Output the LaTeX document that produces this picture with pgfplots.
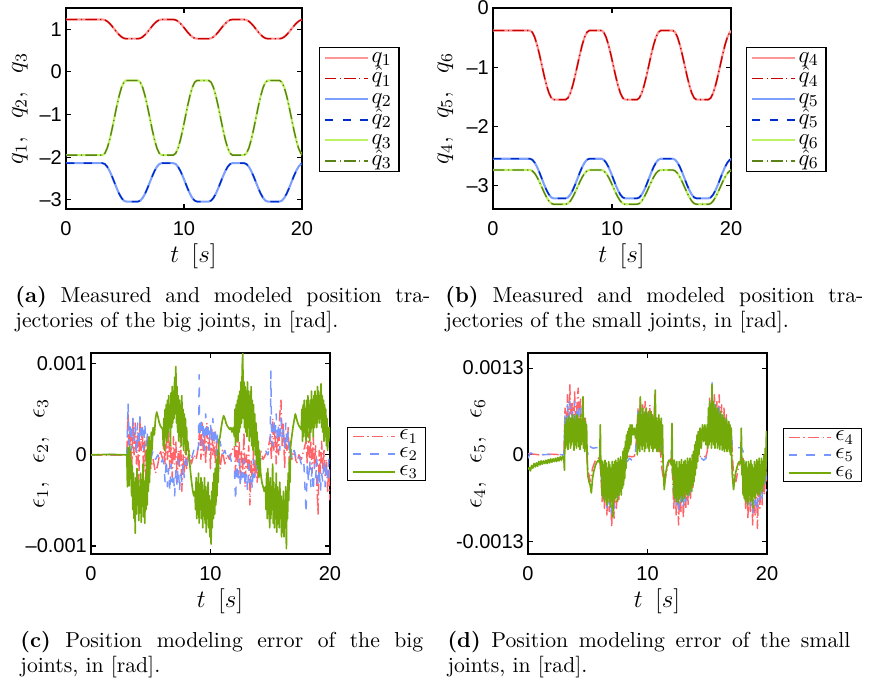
\documentclass[border=0pt]{standalone}
\usepackage{fontspec}
\usepackage{pgfplots}
\usepackage{pgfplotstable}
\pgfplotsset{compat=1.18}
\newfontfamily\tickfont{Liberation Sans}

\definecolor{qa}{RGB}{255,150,150}
\definecolor{qah}{RGB}{200,0,0}
\definecolor{qb}{RGB}{125,160,255}
\definecolor{qbh}{RGB}{0,45,200}
\definecolor{qc}{RGB}{190,240,100}
\definecolor{qch}{RGB}{90,130,25}
\definecolor{ea}{RGB}{255,100,105}
\definecolor{eb}{RGB}{120,150,255}
\definecolor{ec}{RGB}{115,170,10}

\tikzset{dashdot/.style={dash pattern=on 5.5pt off 1.6pt on 0.6pt off 1.6pt},
         mdash/.style={dash pattern=on 4pt off 4.5pt}}

% joint trajectories (measured = modeled at this scale), rad
\pgfplotstableread{
t q1 q2 q3 q4 q5 q6
0.0 1.230 -2.140 -1.950 -0.380 -2.550 -2.740
3.1 1.230 -2.140 -1.950 -0.380 -2.550 -2.740
3.3 1.219 -2.162 -1.907 -0.409 -2.566 -2.754
3.5 1.187 -2.226 -1.783 -0.492 -2.614 -2.795
3.7 1.137 -2.325 -1.589 -0.621 -2.688 -2.860
3.9 1.075 -2.451 -1.345 -0.784 -2.781 -2.940
4.1 1.005 -2.590 -1.075 -0.965 -2.885 -3.030
4.3 0.935 -2.729 -0.805 -1.146 -2.989 -3.120
4.5 0.873 -2.855 -0.561 -1.309 -3.082 -3.200
4.7 0.823 -2.954 -0.367 -1.438 -3.156 -3.265
4.9 0.791 -3.018 -0.243 -1.521 -3.204 -3.306
5.1 0.780 -3.040 -0.200 -1.550 -3.220 -3.320
6.1 0.780 -3.040 -0.200 -1.550 -3.220 -3.320
6.3 0.791 -3.018 -0.243 -1.521 -3.204 -3.306
6.5 0.823 -2.954 -0.367 -1.438 -3.156 -3.265
6.7 0.873 -2.855 -0.561 -1.309 -3.082 -3.200
6.9 0.935 -2.729 -0.805 -1.146 -2.989 -3.120
7.1 1.005 -2.590 -1.075 -0.965 -2.885 -3.030
7.3 1.075 -2.451 -1.345 -0.784 -2.781 -2.940
7.5 1.137 -2.325 -1.589 -0.621 -2.688 -2.860
7.7 1.187 -2.226 -1.783 -0.492 -2.614 -2.795
7.9 1.219 -2.162 -1.907 -0.409 -2.566 -2.754
8.1 1.230 -2.140 -1.950 -0.380 -2.550 -2.740
9.1 1.230 -2.140 -1.950 -0.380 -2.550 -2.740
9.3 1.219 -2.162 -1.907 -0.409 -2.566 -2.754
9.5 1.187 -2.226 -1.783 -0.492 -2.614 -2.795
9.7 1.137 -2.325 -1.589 -0.621 -2.688 -2.860
9.9 1.075 -2.451 -1.345 -0.784 -2.781 -2.940
10.1 1.005 -2.590 -1.075 -0.965 -2.885 -3.030
10.3 0.935 -2.729 -0.805 -1.146 -2.989 -3.120
10.5 0.873 -2.855 -0.561 -1.309 -3.082 -3.200
10.7 0.823 -2.954 -0.367 -1.438 -3.156 -3.265
10.9 0.791 -3.018 -0.243 -1.521 -3.204 -3.306
11.1 0.780 -3.040 -0.200 -1.550 -3.220 -3.320
12.1 0.780 -3.040 -0.200 -1.550 -3.220 -3.320
12.3 0.791 -3.018 -0.243 -1.521 -3.204 -3.306
12.5 0.823 -2.954 -0.367 -1.438 -3.156 -3.265
12.7 0.873 -2.855 -0.561 -1.309 -3.082 -3.200
12.9 0.935 -2.729 -0.805 -1.146 -2.989 -3.120
13.1 1.005 -2.590 -1.075 -0.965 -2.885 -3.030
13.3 1.075 -2.451 -1.345 -0.784 -2.781 -2.940
13.5 1.137 -2.325 -1.589 -0.621 -2.688 -2.860
13.7 1.187 -2.226 -1.783 -0.492 -2.614 -2.795
13.9 1.219 -2.162 -1.907 -0.409 -2.566 -2.754
14.1 1.230 -2.140 -1.950 -0.380 -2.550 -2.740
15.1 1.230 -2.140 -1.950 -0.380 -2.550 -2.740
15.3 1.219 -2.162 -1.907 -0.409 -2.566 -2.754
15.5 1.187 -2.226 -1.783 -0.492 -2.614 -2.795
15.7 1.137 -2.325 -1.589 -0.621 -2.688 -2.860
15.9 1.075 -2.451 -1.345 -0.784 -2.781 -2.940
16.1 1.005 -2.590 -1.075 -0.965 -2.885 -3.030
16.3 0.935 -2.729 -0.805 -1.146 -2.989 -3.120
16.5 0.873 -2.855 -0.561 -1.309 -3.082 -3.200
16.7 0.823 -2.954 -0.367 -1.438 -3.156 -3.265
16.9 0.791 -3.018 -0.243 -1.521 -3.204 -3.306
17.1 0.780 -3.040 -0.200 -1.550 -3.220 -3.320
18.1 0.780 -3.040 -0.200 -1.550 -3.220 -3.320
18.3 0.791 -3.018 -0.243 -1.521 -3.204 -3.306
18.5 0.823 -2.954 -0.367 -1.438 -3.156 -3.265
18.7 0.873 -2.855 -0.561 -1.309 -3.082 -3.200
18.9 0.935 -2.729 -0.805 -1.146 -2.989 -3.120
19.1 1.005 -2.590 -1.075 -0.965 -2.885 -3.030
19.3 1.075 -2.451 -1.345 -0.784 -2.781 -2.940
19.5 1.137 -2.325 -1.589 -0.621 -2.688 -2.860
19.7 1.187 -2.226 -1.783 -0.492 -2.614 -2.795
19.9 1.219 -2.162 -1.907 -0.409 -2.566 -2.754
20.0 1.227 -2.146 -1.939 -0.387 -2.554 -2.744
}\traj

% modeling errors of the big joints, in 1e-4 rad
\pgfplotstableread[row sep=\\]{t v\\
0 0\\ 1.5 -0.05\\ 3.0 0.0\\
3.1 4.5\\ 3.2 -1.5\\ 3.3 3.0\\ 3.4 -2.5\\ 3.5 4.0\\ 3.6 0.0\\ 3.7 3.5\\ 3.8 -1.0\\ 3.9 2.5\\ 4.0 -3.0\\
4.1 4.0\\ 4.2 0.5\\ 4.3 3.0\\ 4.4 -2.0\\ 4.5 1.5\\ 4.6 -3.5\\ 4.7 2.0\\ 4.8 -1.0\\ 4.9 0.5\\ 5.0 -1.5\\
5.2 -0.5\\ 5.4 -2.0\\ 5.6 -1.0\\ 5.8 0.5\\ 6.0 -0.5\\
6.1 1.5\\ 6.2 -1.0\\ 6.3 2.0\\ 6.4 -0.5\\ 6.5 2.5\\ 6.6 -1.5\\ 6.7 1.0\\ 6.8 -2.5\\ 6.9 2.0\\ 7.0 -1.0\\
7.1 1.5\\ 7.2 -3.0\\ 7.3 0.5\\ 7.4 -1.5\\ 7.5 2.0\\ 7.6 -4.0\\ 7.7 0.0\\ 7.8 -2.0\\ 7.9 1.0\\ 8.0 -1.5\\
8.2 0.5\\ 8.4 -1.0\\ 8.6 0.0\\ 8.8 -0.5\\
9.0 1.0\\ 9.1 3.0\\ 9.2 -0.5\\ 9.3 3.5\\ 9.4 0.0\\ 9.5 2.5\\ 9.6 -1.0\\ 9.7 3.5\\ 9.8 0.5\\ 9.9 2.0\\
10.0 -1.5\\ 10.1 3.0\\ 10.2 0.0\\ 10.3 2.5\\ 10.4 -1.0\\ 10.5 1.5\\ 10.6 -2.0\\ 10.7 0.5\\ 10.8 -1.5\\
11.0 0.5\\ 11.2 -1.0\\ 11.4 0.0\\ 11.6 -0.5\\ 11.8 0.5\\
12.0 1.0\\ 12.1 -2.0\\ 12.2 2.0\\ 12.3 -1.0\\ 12.4 1.5\\ 12.5 -3.0\\ 12.6 0.5\\ 12.7 -2.0\\ 12.8 2.5\\ 12.9 -3.5\\
13.0 0.0\\ 13.1 -1.5\\ 13.2 1.0\\ 13.3 -5.5\\ 13.4 -0.5\\ 13.5 -3.0\\ 13.6 0.5\\ 13.7 -2.5\\ 13.8 -0.5\\ 13.9 -3.0\\
14.0 -1.0\\ 14.2 0.5\\ 14.4 -0.5\\ 14.6 0.0\\ 14.8 0.5\\
15.0 2.0\\ 15.1 -0.5\\ 15.2 4.0\\ 15.3 0.5\\ 15.4 3.0\\ 15.5 -1.0\\ 15.6 2.5\\ 15.7 0.0\\ 15.8 4.5\\ 15.9 6.0\\
16.0 1.0\\ 16.1 3.5\\ 16.2 -1.5\\ 16.3 2.0\\ 16.4 0.5\\ 16.5 3.0\\ 16.6 -1.0\\ 16.7 1.5\\ 16.8 -0.5\\
17.0 0.5\\ 17.2 -1.0\\ 17.4 0.0\\ 17.6 -0.5\\ 17.8 0.5\\
18.0 1.5\\ 18.1 -1.0\\ 18.2 2.5\\ 18.3 -0.5\\ 18.4 1.5\\ 18.5 -2.0\\ 18.6 2.0\\ 18.7 -1.0\\ 18.8 1.0\\ 18.9 -3.0\\
19.0 -6.5\\ 19.1 0.5\\ 19.2 -2.0\\ 19.3 1.5\\ 19.4 -1.5\\ 19.5 0.5\\ 19.6 -2.5\\ 19.7 -0.5\\ 19.8 -4.0\\ 19.9 -1.5\\ 20.0 -5.0\\
}\eone

\pgfplotstableread[row sep=\\]{t v\\
0 0\\ 1.5 0.05\\ 3.0 0.0\\
3.1 5.7\\ 3.2 1.0\\ 3.3 3.5\\ 3.4 0.5\\ 3.5 4.0\\ 3.6 1.5\\ 3.7 3.0\\ 3.8 0.0\\ 3.9 3.5\\ 4.0 1.0\\
4.1 4.2\\ 4.2 2.0\\ 4.3 3.0\\ 4.4 0.5\\ 4.5 3.5\\ 4.6 1.0\\ 4.7 2.5\\ 4.8 0.0\\ 4.9 1.5\\ 5.0 -0.5\\
5.2 0.5\\ 5.4 -0.5\\ 5.6 0.0\\ 5.8 -1.0\\ 6.0 -0.5\\
6.1 -1.0\\ 6.2 -3.0\\ 6.3 -0.5\\ 6.4 -3.5\\ 6.5 -1.5\\ 6.6 -4.0\\ 6.7 -1.0\\ 6.8 -3.0\\ 6.9 -2.0\\ 7.0 -4.5\\
7.1 -1.5\\ 7.2 -3.5\\ 7.3 -0.5\\ 7.4 -4.0\\ 7.5 -2.0\\ 7.6 -3.0\\ 7.7 -1.0\\ 7.8 -2.5\\ 7.9 -0.5\\ 8.0 -1.5\\
8.2 0.0\\ 8.4 -0.5\\ 8.6 0.5\\ 8.8 0.0\\
9.0 1.0\\ 9.05 8.8\\ 9.1 2.0\\ 9.2 4.0\\ 9.3 1.0\\ 9.4 3.5\\ 9.5 0.5\\ 9.6 4.5\\ 9.7 2.0\\ 9.8 3.0\\ 9.9 0.5\\
10.0 3.5\\ 10.1 1.5\\ 10.2 4.0\\ 10.3 1.0\\ 10.4 3.0\\ 10.5 0.0\\ 10.6 2.5\\ 10.7 0.5\\ 10.8 1.5\\
11.0 0.0\\ 11.2 0.5\\ 11.4 -0.5\\ 11.6 0.0\\ 11.8 -1.0\\
12.0 -1.5\\ 12.1 -5.0\\ 12.2 -1.0\\ 12.3 -3.0\\ 12.4 -0.5\\ 12.5 -3.5\\ 12.6 -1.5\\ 12.7 -2.5\\ 12.8 -0.5\\ 12.9 -3.5\\
13.0 -2.0\\ 13.1 -4.0\\ 13.2 -1.0\\ 13.3 -3.0\\ 13.4 -2.0\\ 13.5 -3.8\\ 13.6 -0.5\\ 13.7 -2.5\\ 13.8 -1.0\\
14.0 -2.0\\ 14.2 -0.5\\ 14.4 0.0\\ 14.6 0.5\\ 14.8 0.0\\
15.0 1.0\\ 15.05 9.2\\ 15.1 3.0\\ 15.2 1.0\\ 15.3 4.0\\ 15.4 2.0\\ 15.5 4.5\\ 15.6 1.5\\ 15.7 3.5\\ 15.8 0.5\\ 15.9 4.0\\
16.0 2.0\\ 16.1 3.0\\ 16.2 0.5\\ 16.3 3.5\\ 16.4 1.0\\ 16.5 2.5\\ 16.6 0.0\\ 16.7 1.5\\ 16.8 -0.5\\
17.0 0.5\\ 17.2 -0.5\\ 17.4 0.0\\ 17.6 -1.0\\ 17.8 -0.5\\
18.0 -6.4\\ 18.1 -1.0\\ 18.2 -3.0\\ 18.3 -0.5\\ 18.4 -3.5\\ 18.5 -1.5\\ 18.6 -4.0\\ 18.7 -1.0\\ 18.8 -2.5\\ 18.9 -0.5\\
19.0 -3.5\\ 19.1 -1.5\\ 19.2 -4.0\\ 19.3 -2.0\\ 19.4 -3.0\\ 19.5 -0.5\\ 19.6 -3.5\\ 19.7 -1.0\\ 19.8 -2.5\\ 19.9 -0.5\\ 20.0 -3.0\\
}\etwo

\pgfplotstableread[row sep=\\]{t v\\
0 0.0\\ 1.5 0.05\\ 3.0 0.0\\
3.05 -3.5\\ 3.1 0.8\\ 3.15 -2.0\\ 3.2 -3.4\\ 3.25 1.0\\ 3.3 -2.6\\ 3.35 -0.5\\ 3.4 -4.5\\ 3.45 -1.2\\ 3.5 -6.0\\
3.55 -2.0\\ 3.6 -7.0\\ 3.65 -3.0\\ 3.7 -8.6\\ 3.75 -2.5\\ 3.8 -6.5\\ 3.85 -1.5\\ 3.9 -5.5\\ 3.95 -2.8\\ 4.0 -7.2\\
4.05 -3.5\\ 4.1 -6.0\\ 4.15 -2.0\\ 4.2 -7.4\\ 4.25 -3.0\\ 4.3 -5.5\\ 4.35 -1.0\\ 4.4 -6.8\\ 4.45 -3.2\\ 4.5 -7.5\\
4.55 -2.5\\ 4.6 -6.0\\ 4.65 0.5\\ 4.7 -5.5\\ 4.75 1.5\\ 4.8 -4.0\\ 4.85 2.0\\ 4.9 -3.0\\ 4.95 1.5\\ 5.0 -1.0\\
5.05 2.5\\ 5.1 0.5\\ 5.2 3.0\\ 5.3 2.2\\ 5.4 4.0\\ 5.5 4.7\\ 5.6 4.2\\ 5.7 3.6\\ 5.8 3.2\\ 5.9 3.0\\ 6.0 2.8\\
6.05 1.0\\ 6.1 4.0\\ 6.15 0.5\\ 6.2 5.0\\ 6.25 2.0\\ 6.3 5.5\\ 6.35 1.5\\ 6.4 6.0\\ 6.45 2.5\\ 6.5 6.5\\
6.55 3.0\\ 6.6 5.5\\ 6.65 1.0\\ 6.7 6.8\\ 6.75 3.0\\ 6.8 7.5\\ 6.85 3.5\\ 6.9 7.0\\ 6.95 4.0\\ 7.0 8.5\\
7.05 4.5\\ 7.1 9.7\\ 7.15 3.5\\ 7.2 7.5\\ 7.25 2.5\\ 7.3 6.5\\ 7.35 1.5\\ 7.4 6.0\\ 7.45 2.0\\ 7.5 5.5\\
7.55 1.0\\ 7.6 6.5\\ 7.65 2.0\\ 7.7 5.0\\ 7.75 0.5\\ 7.8 4.5\\ 7.85 1.5\\ 7.9 4.0\\ 7.95 0.0\\ 8.0 3.0\\
8.05 0.5\\ 8.1 1.5\\ 8.2 0.0\\ 8.3 -1.5\\ 8.4 -2.8\\ 8.5 -3.8\\ 8.6 -4.5\\ 8.7 -4.0\\
8.75 -6.0\\ 8.8 -2.5\\ 8.85 -7.0\\ 8.9 -3.0\\ 8.95 -6.5\\ 9.0 -2.0\\ 9.05 -7.5\\ 9.1 -3.5\\ 9.15 -6.0\\ 9.2 -2.5\\
9.25 -7.0\\ 9.3 -3.0\\ 9.35 -8.0\\ 9.4 -4.0\\ 9.45 -6.5\\ 9.5 -2.5\\ 9.55 -7.5\\ 9.6 -3.5\\ 9.65 -8.5\\ 9.7 -4.0\\
9.75 -7.0\\ 9.8 -3.0\\ 9.85 -8.0\\ 9.9 -4.5\\ 9.95 -9.0\\ 10.0 -5.0\\ 10.05 -9.8\\ 10.1 -4.0\\ 10.15 -8.0\\ 10.2 -3.0\\
10.25 -7.0\\ 10.3 -2.0\\ 10.35 -6.5\\ 10.4 -1.5\\ 10.45 -5.5\\ 10.5 -0.5\\ 10.55 -4.5\\ 10.6 0.5\\ 10.65 -3.0\\ 10.7 1.5\\
10.8 2.0\\ 10.9 3.0\\ 11.0 3.8\\ 11.1 4.3\\ 11.2 4.0\\ 11.3 3.5\\ 11.4 3.2\\ 11.5 3.0\\ 11.6 2.8\\ 11.7 3.0\\ 11.8 2.5\\ 11.9 3.0\\
12.0 2.0\\ 12.05 5.0\\ 12.1 1.0\\ 12.15 5.5\\ 12.2 2.0\\ 12.25 6.0\\ 12.3 1.5\\ 12.35 6.5\\ 12.4 2.5\\ 12.45 7.0\\
12.5 3.0\\ 12.55 8.0\\ 12.6 3.5\\ 12.65 9.5\\ 12.7 11.2\\ 12.75 4.0\\ 12.8 8.0\\ 12.85 3.0\\ 12.9 7.5\\ 12.95 2.5\\
13.0 7.0\\ 13.05 2.0\\ 13.1 8.0\\ 13.15 3.0\\ 13.2 7.0\\ 13.25 1.5\\ 13.3 6.5\\ 13.35 2.0\\ 13.4 7.5\\ 13.45 1.0\\
13.5 6.0\\ 13.55 0.5\\ 13.6 5.5\\ 13.65 1.0\\ 13.7 4.5\\ 13.75 0.0\\ 13.8 3.5\\ 13.85 -1.0\\ 13.9 2.5\\ 13.95 -1.5\\
14.0 1.5\\ 14.05 -2.5\\ 14.1 0.5\\ 14.2 -2.0\\ 14.3 -3.0\\ 14.4 -3.5\\ 14.5 -4.0\\ 14.6 -3.5\\
14.65 -6.0\\ 14.7 -2.0\\ 14.75 -7.0\\ 14.8 -1.5\\ 14.85 -6.5\\ 14.9 -3.0\\ 14.95 -8.0\\ 15.0 -2.5\\
15.05 -7.0\\ 15.1 -3.5\\ 15.15 -6.0\\ 15.2 -1.0\\ 15.25 -7.5\\ 15.3 -3.0\\ 15.35 -8.0\\ 15.4 -4.0\\ 15.45 -7.0\\ 15.5 -2.0\\
15.55 -8.5\\ 15.6 -3.5\\ 15.65 -7.5\\ 15.7 -4.0\\ 15.75 -8.0\\ 15.8 -3.0\\ 15.85 -7.0\\ 15.9 -4.5\\ 15.95 -9.0\\ 16.0 -5.0\\
16.05 -8.5\\ 16.1 -4.0\\ 16.15 -9.0\\ 16.2 -5.0\\ 16.25 -8.0\\ 16.3 -3.5\\ 16.35 -10.3\\ 16.4 -4.0\\ 16.45 -7.0\\ 16.5 -2.0\\
16.55 -5.0\\ 16.6 -0.5\\ 16.65 -3.0\\ 16.7 1.0\\ 16.8 2.0\\ 16.9 3.0\\ 17.0 3.8\\ 17.1 4.5\\ 17.2 4.0\\ 17.3 3.5\\ 17.4 3.2\\ 17.5 3.0\\ 17.6 2.8\\
17.65 5.0\\ 17.7 1.5\\ 17.75 5.5\\ 17.8 2.0\\ 17.85 6.0\\ 17.9 2.5\\ 17.95 5.0\\ 18.0 1.5\\ 18.05 6.0\\ 18.1 2.0\\
18.15 6.5\\ 18.2 3.0\\ 18.25 5.5\\ 18.3 1.5\\ 18.35 6.0\\ 18.4 2.5\\ 18.45 7.0\\ 18.5 3.0\\ 18.55 6.0\\ 18.6 2.0\\
18.65 6.5\\ 18.7 3.0\\ 18.75 7.0\\ 18.8 3.5\\ 18.85 6.5\\ 18.9 3.0\\ 18.95 7.5\\ 19.0 4.0\\ 19.05 7.0\\ 19.1 3.5\\
19.15 6.5\\ 19.2 4.0\\ 19.25 7.8\\ 19.3 3.0\\ 19.35 6.5\\ 19.4 2.5\\ 19.45 6.0\\ 19.5 1.5\\ 19.55 5.5\\ 19.6 2.0\\
19.65 5.0\\ 19.7 1.0\\ 19.75 4.0\\ 19.8 0.5\\ 19.85 3.0\\ 19.9 1.5\\ 19.95 3.0\\ 20.0 2.5\\
}\ethree

% modeling errors of the small joints, in 1e-4 rad
\pgfplotstableread[row sep=\\]{t v\\
0.0 0.2\\ 1.0 0.0\\ 2.0 0.1\\ 3.0 0.0\\
3.1 7.0\\ 3.2 2.0\\ 3.3 9.0\\ 3.4 3.0\\ 3.5 10.5\\ 3.6 4.0\\ 3.7 8.0\\ 3.8 2.5\\ 3.9 9.5\\ 4.0 3.5\\
4.1 7.5\\ 4.2 10.0\\ 4.3 3.0\\ 4.4 8.5\\ 4.5 2.0\\ 4.6 6.0\\ 4.7 1.5\\ 4.8 5.5\\ 4.9 0.5\\ 5.0 -2.0\\
5.2 -4.0\\ 5.4 -2.0\\ 5.6 -1.0\\ 5.8 -0.5\\ 6.0 -0.5\\
6.1 -3.0\\ 6.2 -7.0\\ 6.3 -2.5\\ 6.4 -8.0\\ 6.5 -3.5\\ 6.6 -9.0\\ 6.7 -4.0\\ 6.8 -8.5\\ 6.9 -3.0\\ 7.0 -10.9\\
7.1 -5.0\\ 7.2 -9.5\\ 7.3 -3.5\\ 7.4 -8.0\\ 7.5 -2.0\\ 7.6 -7.0\\ 7.7 -1.5\\ 7.8 -5.0\\ 7.9 -1.0\\ 8.0 -3.0\\
8.1 -0.5\\ 8.3 -0.3\\ 8.5 -0.2\\ 8.7 -0.3\\ 8.9 -0.2\\ 9.0 0.5\\
9.1 3.0\\ 9.2 7.0\\ 9.3 2.0\\ 9.4 8.5\\ 9.5 3.0\\ 9.6 7.5\\ 9.7 2.0\\ 9.8 8.0\\ 9.9 3.5\\ 10.0 6.5\\
10.1 1.5\\ 10.2 7.5\\ 10.3 2.5\\ 10.4 6.0\\ 10.5 1.0\\ 10.6 9.0\\ 10.7 2.0\\ 10.8 5.5\\ 10.9 0.5\\ 11.0 4.5\\
11.1 0.0\\ 11.2 -2.0\\ 11.4 -4.5\\ 11.6 -2.5\\ 11.8 -1.0\\ 12.0 -0.5\\
12.1 -3.0\\ 12.2 -8.0\\ 12.3 -3.5\\ 12.4 -9.0\\ 12.5 -4.0\\ 12.6 -10.5\\ 12.7 -5.0\\ 12.8 -8.5\\ 12.9 -3.0\\ 13.0 -9.5\\
13.1 -4.0\\ 13.2 -8.0\\ 13.3 -2.5\\ 13.4 -7.5\\ 13.5 -2.0\\ 13.6 -6.5\\ 13.7 -1.5\\ 13.8 -5.0\\ 13.9 -1.0\\ 14.0 -2.5\\
14.1 -0.5\\ 14.3 -0.3\\ 14.5 -0.2\\ 14.7 -0.3\\ 14.9 -0.2\\ 15.0 0.5\\
15.1 4.0\\ 15.2 8.5\\ 15.3 3.0\\ 15.4 10.0\\ 15.5 4.0\\ 15.6 9.0\\ 15.7 3.0\\ 15.8 8.0\\ 15.9 2.5\\ 16.0 9.0\\
16.1 3.5\\ 16.2 7.5\\ 16.3 2.0\\ 16.4 7.0\\ 16.5 1.5\\ 16.6 6.0\\ 16.7 1.0\\ 16.8 5.0\\ 16.9 0.5\\ 17.0 4.0\\
17.1 0.0\\ 17.2 -3.0\\ 17.4 -4.0\\ 17.6 -2.0\\ 17.8 -1.0\\ 18.0 -0.5\\
18.1 -3.0\\ 18.2 -8.0\\ 18.3 -3.0\\ 18.4 -9.5\\ 18.5 -4.0\\ 18.6 -8.5\\ 18.7 -3.5\\ 18.8 -10.5\\ 18.9 -4.0\\ 19.0 -9.0\\
19.1 -3.0\\ 19.2 -11.0\\ 19.3 -4.5\\ 19.4 -8.0\\ 19.5 -2.5\\ 19.6 -7.5\\ 19.7 -2.0\\ 19.8 -6.0\\ 19.9 -1.0\\ 20.0 -4.0\\
}\efour

\pgfplotstableread[row sep=\\]{t v\\
0.0 -0.5\\ 0.2 0.3\\ 0.5 0.1\\ 1.0 0.0\\ 2.0 0.1\\ 3.0 0.0\\
3.1 6.0\\ 3.2 2.0\\ 3.3 7.5\\ 3.4 2.5\\ 3.5 8.0\\ 3.6 3.0\\ 3.7 6.5\\ 3.8 2.0\\ 3.9 8.0\\ 4.0 3.0\\
4.1 6.5\\ 4.2 7.5\\ 4.3 2.5\\ 4.4 7.0\\ 4.5 2.0\\ 4.6 5.5\\ 4.7 1.5\\ 4.8 5.0\\ 4.9 1.0\\ 5.0 0.0\\
5.1 1.5\\ 5.3 1.1\\ 5.5 1.0\\ 5.7 1.1\\ 5.9 1.0\\ 6.0 0.5\\
6.1 -2.0\\ 6.2 -6.0\\ 6.3 -2.0\\ 6.4 -7.0\\ 6.5 -3.0\\ 6.6 -8.0\\ 6.7 -3.5\\ 6.8 -7.5\\ 6.9 -2.5\\ 7.0 -9.5\\
7.1 -4.0\\ 7.2 -8.0\\ 7.3 -3.0\\ 7.4 -7.0\\ 7.5 -2.0\\ 7.6 -6.0\\ 7.7 -1.5\\ 7.8 -4.0\\ 7.9 -1.0\\ 8.0 -2.0\\
8.1 -0.5\\ 8.3 -1.0\\ 8.5 -0.5\\ 8.7 -0.8\\ 8.9 -0.5\\ 9.0 0.5\\
9.1 3.0\\ 9.2 6.5\\ 9.3 2.0\\ 9.4 7.5\\ 9.5 3.0\\ 9.6 6.5\\ 9.7 2.0\\ 9.8 7.0\\ 9.9 3.0\\ 10.0 6.0\\
10.1 1.5\\ 10.2 6.5\\ 10.3 2.0\\ 10.4 5.5\\ 10.5 1.0\\ 10.6 6.0\\ 10.7 2.0\\ 10.8 5.0\\ 10.9 0.5\\ 11.0 4.0\\
11.1 1.0\\ 11.3 1.1\\ 11.5 1.0\\ 11.7 1.1\\ 11.9 1.0\\ 12.0 0.5\\
12.1 -2.0\\ 12.2 -6.5\\ 12.3 -2.5\\ 12.4 -7.5\\ 12.5 -3.0\\ 12.6 -8.5\\ 12.7 -3.5\\ 12.8 -7.0\\ 12.9 -2.5\\ 13.0 -8.0\\
13.1 -3.0\\ 13.2 -7.0\\ 13.3 -2.0\\ 13.4 -6.5\\ 13.5 -1.5\\ 13.6 -5.5\\ 13.7 -1.0\\ 13.8 -4.0\\ 13.9 -0.5\\ 14.0 -2.0\\
14.1 -0.5\\ 14.3 -1.0\\ 14.5 -0.5\\ 14.7 -0.8\\ 14.9 -0.5\\ 15.0 0.5\\
15.1 3.5\\ 15.2 7.5\\ 15.3 2.5\\ 15.4 10.8\\ 15.5 3.5\\ 15.6 8.0\\ 15.7 2.5\\ 15.8 7.0\\ 15.9 2.0\\ 16.0 7.5\\
16.1 3.0\\ 16.2 6.5\\ 16.3 2.0\\ 16.4 6.0\\ 16.5 1.5\\ 16.6 5.5\\ 16.7 1.0\\ 16.8 4.5\\ 16.9 0.5\\ 17.0 3.5\\
17.1 1.0\\ 17.3 1.1\\ 17.5 1.0\\ 17.7 1.1\\ 17.9 1.0\\ 18.0 0.5\\
18.1 -2.0\\ 18.2 -6.5\\ 18.3 -2.5\\ 18.4 -8.0\\ 18.5 -3.0\\ 18.6 -7.5\\ 18.7 -2.5\\ 18.8 -9.0\\ 18.9 -3.5\\ 19.0 -7.5\\
19.1 -2.0\\ 19.2 -8.5\\ 19.3 -3.5\\ 19.4 -7.0\\ 19.5 -2.0\\ 19.6 -6.5\\ 19.7 -1.5\\ 19.8 -5.0\\ 19.9 -2.0\\ 20.0 -5.5\\
}\efive

\pgfplotstableread[row sep=\\]{t v\\
0.0 -2.2\\ 0.1 -1.9\\ 0.2 -2.4\\ 0.3 -1.6\\ 0.4 -2.0\\ 0.5 -1.3\\ 0.6 -1.8\\ 0.7 -1.2\\ 0.8 -1.7\\ 0.9 -1.0\\
1.0 -1.5\\ 1.1 -0.9\\ 1.2 -1.4\\ 1.3 -0.9\\ 1.4 -1.3\\ 1.5 -0.8\\ 1.6 -1.3\\ 1.7 -0.7\\ 1.8 -1.2\\ 1.9 -0.6\\
2.0 -1.1\\ 2.1 -0.6\\ 2.2 -1.0\\ 2.3 -0.5\\ 2.4 -1.0\\ 2.5 -0.4\\ 2.6 -0.9\\ 2.7 -0.3\\ 2.8 -0.8\\ 2.9 -0.2\\ 3.0 -0.6\\
3.05 -2.3\\ 3.1 4.5\\ 3.15 1.0\\ 3.2 5.5\\ 3.25 1.5\\ 3.3 5.0\\ 3.35 0.8\\ 3.4 5.8\\ 3.45 2.0\\ 3.5 4.8\\
3.55 1.0\\ 3.6 5.5\\ 3.65 1.5\\ 3.7 6.0\\ 3.75 2.0\\ 3.8 5.2\\ 3.85 0.7\\ 3.9 5.8\\ 3.95 1.5\\ 4.0 5.0\\
4.05 1.0\\ 4.1 6.0\\ 4.15 2.0\\ 4.2 5.5\\ 4.25 1.2\\ 4.3 5.0\\ 4.35 0.8\\ 4.4 6.0\\ 4.45 1.5\\ 4.5 5.0\\
4.55 2.0\\ 4.6 8.7\\ 4.65 1.0\\ 4.7 5.5\\ 4.75 0.5\\ 4.8 5.0\\ 4.85 1.0\\ 4.9 4.5\\ 4.95 -0.5\\
5.0 -3.0\\ 5.1 -4.0\\ 5.2 -4.5\\ 5.3 -5.7\\ 5.4 -3.5\\ 5.5 -2.5\\ 5.6 -1.8\\ 5.7 -1.3\\ 5.8 -1.0\\ 5.9 -0.8\\ 6.0 -1.2\\
6.05 4.5\\ 6.1 -3.0\\ 6.15 -0.8\\ 6.2 -6.0\\ 6.25 -1.0\\ 6.3 -6.5\\ 6.35 -1.5\\ 6.4 -7.0\\ 6.45 -0.8\\ 6.5 -6.0\\
6.55 -1.2\\ 6.6 -7.5\\ 6.65 -2.0\\ 6.7 -6.5\\ 6.75 -1.0\\ 6.8 -7.0\\ 6.85 -1.5\\ 6.9 -7.8\\ 6.95 -2.0\\ 7.0 -6.5\\
7.05 -1.0\\ 7.1 -9.3\\ 7.15 -1.5\\ 7.2 -7.0\\ 7.25 -1.0\\ 7.3 -6.5\\ 7.35 -0.8\\ 7.4 -6.0\\ 7.45 -1.2\\ 7.5 -7.0\\
7.55 -0.5\\ 7.6 -6.0\\ 7.65 -1.0\\ 7.7 -5.5\\ 7.75 -0.3\\ 7.8 -6.0\\ 7.85 -0.8\\ 7.9 -5.0\\ 7.95 0.5\\ 8.0 -4.5\\
8.05 1.0\\ 8.1 -3.5\\ 8.15 2.0\\ 8.2 -2.0\\ 8.25 3.0\\ 8.3 -0.5\\ 8.35 3.5\\ 8.4 0.5\\ 8.45 4.0\\ 8.5 1.0\\
8.55 4.5\\ 8.6 1.5\\ 8.7 4.5\\ 8.8 3.0\\ 8.9 4.0\\ 9.0 2.5\\ 9.1 4.5\\
9.15 0.0\\ 9.2 6.0\\ 9.25 1.0\\ 9.3 6.5\\ 9.35 0.5\\ 9.4 8.7\\ 9.45 1.5\\ 9.5 6.0\\ 9.55 0.8\\ 9.6 7.0\\
9.65 1.5\\ 9.7 6.0\\ 9.75 0.5\\ 9.8 6.5\\ 9.85 1.0\\ 9.9 7.0\\ 9.95 2.0\\ 10.0 6.0\\ 10.05 1.0\\ 10.1 6.5\\
10.15 0.5\\ 10.2 5.5\\ 10.25 1.5\\ 10.3 6.5\\ 10.35 1.0\\ 10.4 6.0\\ 10.45 0.5\\ 10.5 5.5\\ 10.55 1.0\\ 10.6 6.0\\
10.65 9.7\\ 10.7 1.0\\ 10.75 5.5\\ 10.8 0.5\\ 10.85 5.0\\ 10.9 1.0\\ 10.95 6.0\\ 11.0 0.5\\ 11.05 5.0\\ 11.1 1.5\\
11.15 5.5\\ 11.2 0.0\\ 11.25 4.5\\ 11.3 -1.0\\ 11.35 -3.0\\ 11.4 -5.2\\ 11.5 -3.0\\ 11.6 -2.0\\ 11.7 -1.2\\ 11.8 -0.8\\ 11.9 -1.0\\ 12.0 -1.5\\
12.05 4.7\\ 12.1 -3.0\\ 12.15 -1.0\\ 12.2 -6.0\\ 12.25 -0.8\\ 12.3 -6.5\\ 12.35 -1.5\\ 12.4 -7.0\\ 12.45 -1.0\\ 12.5 -6.0\\
12.55 -2.0\\ 12.6 -7.2\\ 12.65 -1.0\\ 12.7 -6.5\\ 12.75 -1.5\\ 12.8 -6.0\\ 12.85 -0.7\\ 12.9 -7.0\\ 12.95 -1.5\\ 13.0 -6.0\\
13.05 -1.0\\ 13.1 -6.5\\ 13.15 -0.8\\ 13.2 -5.5\\ 13.25 -1.5\\ 13.3 -6.0\\ 13.35 -0.5\\ 13.4 -5.5\\ 13.45 -1.0\\ 13.5 -6.0\\
13.55 -0.5\\ 13.6 -5.0\\ 13.65 -1.0\\ 13.7 -5.5\\ 13.75 0.0\\ 13.8 -4.5\\ 13.85 0.5\\ 13.9 -4.0\\ 13.95 1.5\\ 14.0 -3.0\\
14.05 2.0\\ 14.1 -2.0\\ 14.15 3.0\\ 14.2 -1.0\\ 14.25 3.5\\ 14.3 0.0\\ 14.4 4.0\\ 14.5 1.0\\ 14.6 4.5\\ 14.7 2.0\\ 14.8 4.5\\ 14.9 1.5\\ 15.0 4.5\\
15.05 1.0\\ 15.1 7.0\\ 15.15 1.5\\ 15.2 8.0\\ 15.25 2.0\\ 15.3 7.5\\ 15.35 1.0\\ 15.4 10.5\\ 15.45 2.0\\ 15.5 8.0\\
15.55 1.5\\ 15.6 7.0\\ 15.65 1.0\\ 15.7 7.5\\ 15.75 2.0\\ 15.8 6.5\\ 15.85 1.0\\ 15.9 7.0\\ 15.95 1.5\\ 16.0 6.0\\
16.05 0.8\\ 16.1 6.5\\ 16.15 1.5\\ 16.2 5.5\\ 16.25 0.7\\ 16.3 6.0\\ 16.35 1.0\\ 16.4 5.5\\ 16.45 0.5\\ 16.5 5.0\\
16.55 1.0\\ 16.6 5.5\\ 16.65 0.5\\ 16.7 4.5\\ 16.75 1.0\\ 16.8 5.0\\ 16.85 0.5\\ 16.9 4.5\\ 16.95 0.0\\ 17.0 4.0\\
17.05 -1.0\\ 17.1 -3.0\\ 17.2 -5.2\\ 17.3 -3.5\\ 17.4 -2.5\\ 17.5 -1.8\\ 17.6 -1.2\\ 17.7 -1.0\\ 17.8 -1.3\\ 17.85 4.0\\ 17.9 -3.0\\
17.95 -1.0\\ 18.0 -6.0\\ 18.05 -0.8\\ 18.1 -6.5\\ 18.15 -1.5\\ 18.2 -7.0\\ 18.25 -1.0\\ 18.3 -6.5\\ 18.35 -2.0\\ 18.4 -7.5\\
18.45 -1.0\\ 18.5 -6.0\\ 18.55 -1.5\\ 18.6 -7.0\\ 18.65 -0.8\\ 18.7 -6.5\\ 18.75 -1.5\\ 18.8 -7.9\\ 18.85 -2.0\\ 18.9 -6.0\\
18.95 -1.0\\ 19.0 -6.5\\ 19.05 -1.5\\ 19.1 -5.5\\ 19.15 -0.7\\ 19.2 -6.0\\ 19.25 -1.0\\ 19.3 -5.5\\ 19.35 -0.5\\ 19.4 -6.0\\
19.45 -1.5\\ 19.5 -5.0\\ 19.55 -0.5\\ 19.6 -5.5\\ 19.65 -1.0\\ 19.7 -4.5\\ 19.75 0.0\\ 19.8 -4.0\\ 19.85 1.0\\ 19.9 -3.0\\ 19.95 3.5\\ 20.0 -1.0\\
}\esix

\pgfplotsset{
  myaxis/.style={
    scale only axis, anchor=north west,
    axis line style={line width=0.7pt},
    tick align=inside, major tick length=2.5pt,
    tick style={line width=0.5pt, black},
    xmin=0, xmax=20, xtick={0,10,20}, xticklabels={0,10,20},
    ticklabel style={font=\fontsize{9.6}{11}\tickfont},
    xticklabel style={inner sep=0pt, anchor=north, yshift=-6pt},
    yticklabel style={inner sep=0pt, anchor=east, xshift=-1.8pt},
    label style={font=\fontsize{12}{14}\selectfont},
    xlabel={$t\ \,[s]$},
    xlabel style={at={(axis description cs:0.54,-0.235)}, anchor=center},
    legend image code/.code={\draw[##1] (0pt,0pt) -- (20.5pt,0pt);},
    legend cell align=left,
    legend style={draw=black, line width=0.6pt, fill=white, anchor=north west,
      inner xsep=2pt, inner ysep=0pt, row sep=0pt,
      font=\fontsize{11}{12}\selectfont,
      nodes={inner xsep=1.5pt, inner ysep=0pt, text height=7pt, text depth=2.9pt}},
  },
  errlegend/.style={legend style={font=\fontsize{10.5}{12}\selectfont,
      nodes={inner xsep=1.5pt, inner ysep=0pt, text height=5.8pt, text depth=2.7pt}}},
}

\newcommand\capfont{\fontsize{10.4}{11.9}\selectfont}

\begin{document}
\begin{tikzpicture}
\useasboundingbox (0pt,0pt) rectangle (422.88pt,-327.36pt);

% (a)
\begin{axis}[myaxis, at={(31.68pt,-3.84pt)}, width=113.28pt, height=96.48pt,
  ymin=-3.215, ymax=1.5, ytick={-3,-2,-1,0,1},
  yticklabels={\textendash3,\textendash2,\textendash1,0,1},
  ylabel={$q_1,\;\; q_2,\;\; q_3$},
  ylabel style={at={(axis description cs:-0.195,0.5)}, anchor=center},
  legend style={at={(axis description cs:1.072,0.806)}}]
\addplot[qa, line width=1pt] table[x=t,y=q1] {\traj}; \addlegendentry{$q_1$}
\addplot[qah, line width=0.65pt, dashdot] table[x=t,y=q1] {\traj}; \addlegendentry{$\hat{q}_1$}
\addplot[qb, line width=1pt] table[x=t,y=q2] {\traj}; \addlegendentry{$q_2$}
\addplot[qbh, line width=0.7pt, mdash] table[x=t,y=q2] {\traj}; \addlegendentry{$\hat{q}_2$}
\addplot[qc, line width=1pt] table[x=t,y=q3] {\traj}; \addlegendentry{$q_3$}
\addplot[qch, line width=0.65pt, dashdot] table[x=t,y=q3] {\traj}; \addlegendentry{$\hat{q}_3$}
\end{axis}

% (b)
\begin{axis}[myaxis, at={(236.64pt,-3.84pt)}, width=114.24pt, height=96.48pt,
  ymin=-3.4, ymax=0, ytick={-3,-2,-1,0},
  yticklabels={\textendash3,\textendash2,\textendash1,0},
  ylabel={$q_4,\;\; q_5,\;\; q_6$},
  ylabel style={at={(axis description cs:-0.20,0.5)}, anchor=center},
  legend style={at={(axis description cs:1.063,0.806)}}]
\addplot[qa, line width=1pt] table[x=t,y=q4] {\traj}; \addlegendentry{$q_4$}
\addplot[qah, line width=0.65pt, dashdot] table[x=t,y=q4] {\traj}; \addlegendentry{$\hat{q}_4$}
\addplot[qb, line width=1pt] table[x=t,y=q5] {\traj}; \addlegendentry{$q_5$}
\addplot[qbh, line width=0.7pt, mdash] table[x=t,y=q5] {\traj}; \addlegendentry{$\hat{q}_5$}
\addplot[qc, line width=1pt] table[x=t,y=q6] {\traj}; \addlegendentry{$q_6$}
\addplot[qch, line width=0.65pt, dashdot] table[x=t,y=q6] {\traj}; \addlegendentry{$\hat{q}_6$}
\end{axis}

% (c)
\begin{axis}[myaxis, errlegend, at={(43.68pt,-169.44pt)}, width=114.72pt, height=96.48pt,
  ymin=-10.88, ymax=11.18, ytick={-10,0,10},
  yticklabels={\textendash0.001,0,0.001},
  ylabel={$\epsilon_1,\;\; \epsilon_2,\;\; \epsilon_3$},
  ylabel style={at={(axis description cs:-0.207,0.5)}, anchor=center},
  legend style={at={(axis description cs:1.071,0.632)}}]
\addplot[ea, line width=0.7pt, dashdot, line join=round] table[x=t,y=v] {\eone}; \addlegendentry{$\epsilon_1$}
\addplot[eb, line width=0.7pt, mdash, line join=round] table[x=t,y=v] {\etwo}; \addlegendentry{$\epsilon_2$}
\addplot[ec, line width=0.8pt, line join=round] table[x=t,y=v] {\ethree}; \addlegendentry{$\epsilon_3$}
\end{axis}

% (d)
\begin{axis}[myaxis, errlegend, at={(253.44pt,-169.44pt)}, width=114.72pt, height=96.48pt,
  ymin=-14.84, ymax=15.25, ytick={-13,0,13},
  yticklabels={-0.0013,0,0.0013},
  ylabel={$\epsilon_4,\;\; \epsilon_5,\;\; \epsilon_6$},
  ylabel style={at={(axis description cs:-0.207,0.5)}, anchor=center},
  legend style={at={(axis description cs:1.067,0.627)}}]
\addplot[ea, line width=0.7pt, dashdot, line join=round] table[x=t,y=v] {\efour}; \addlegendentry{$\epsilon_4$}
\addplot[eb, line width=0.7pt, mdash, line join=round] table[x=t,y=v] {\efive}; \addlegendentry{$\epsilon_5$}
\addplot[ec, line width=0.8pt, line join=round] table[x=t,y=v] {\esix}; \addlegendentry{$\epsilon_6$}
\end{axis}

% captions (node base = baseline of the second line)
\node[anchor=base west, inner sep=0pt, align=left] at (7.2pt,-157.3pt)
  {\capfont\makebox[199.2pt][s]{\textbf{(a)} Measured and modeled position tra-}\\[-0.1pt]
   \capfont jectories of the big joints, in [rad].};
\node[anchor=base west, inner sep=0pt, align=left] at (213.6pt,-157.3pt)
  {\capfont\makebox[200.6pt][s]{\textbf{(b)} Measured and modeled position tra-}\\[-0.1pt]
   \capfont jectories of the small joints, in [rad].};
\node[anchor=base west, inner sep=0pt, align=left] at (9.6pt,-322.6pt)
  {\capfont\makebox[193.4pt][s]{\textbf{(c)} Position modeling error of the big}\\[-0.1pt]
   \capfont joints, in [rad].};
\node[anchor=base west, inner sep=0pt, align=left] at (214.6pt,-322.6pt)
  {\capfont\makebox[193.4pt][s]{\textbf{(d)} Position modeling error of the small}\\[-0.1pt]
   \capfont joints, in [rad].};
\end{tikzpicture}
\end{document}
